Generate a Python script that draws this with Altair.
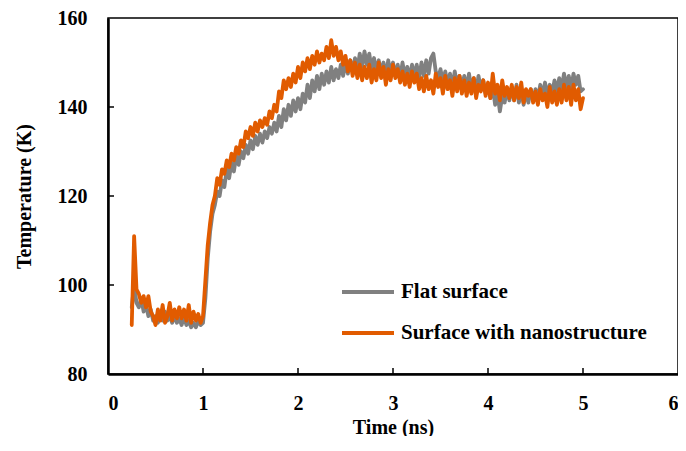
import altair as alt
import pandas as pd

# ---- data ----
time_ns = [
    0.250, 0.275, 0.300, 0.325, 0.350, 0.375, 0.400, 0.425, 0.450, 0.475,
    0.500, 0.525, 0.550, 0.575, 0.600, 0.625, 0.650, 0.675, 0.700, 0.725,
    0.750, 0.775, 0.800, 0.825, 0.850, 0.875, 0.900, 0.925, 0.950, 0.975,
    1.000, 1.025, 1.050, 1.075, 1.100, 1.125, 1.150, 1.175, 1.200, 1.225,
    1.250, 1.275, 1.300, 1.325, 1.350, 1.375, 1.400, 1.425, 1.450, 1.475,
    1.500, 1.525, 1.550, 1.575, 1.600, 1.625, 1.650, 1.675, 1.700, 1.725,
    1.750, 1.775, 1.800, 1.825, 1.850, 1.875, 1.900, 1.925, 1.950, 1.975,
    2.000, 2.025, 2.050, 2.075, 2.100, 2.125, 2.150, 2.175, 2.200, 2.225,
    2.250, 2.275, 2.300, 2.325, 2.350, 2.375, 2.400, 2.425, 2.450, 2.475,
    2.500, 2.525, 2.550, 2.575, 2.600, 2.625, 2.650, 2.675, 2.700, 2.725,
    2.750, 2.775, 2.800, 2.825, 2.850, 2.875, 2.900, 2.925, 2.950, 2.975,
    3.000, 3.025, 3.050, 3.075, 3.100, 3.125, 3.150, 3.175, 3.200, 3.225,
    3.250, 3.275, 3.300, 3.325, 3.350, 3.375, 3.400, 3.425, 3.450, 3.475,
    3.500, 3.525, 3.550, 3.575, 3.600, 3.625, 3.650, 3.675, 3.700, 3.725,
    3.750, 3.775, 3.800, 3.825, 3.850, 3.875, 3.900, 3.925, 3.950, 3.975,
    4.000, 4.025, 4.050, 4.075, 4.100, 4.125, 4.150, 4.175, 4.200, 4.225,
    4.250, 4.275, 4.300, 4.325, 4.350, 4.375, 4.400, 4.425, 4.450, 4.475,
    4.500, 4.525, 4.550, 4.575, 4.600, 4.625, 4.650, 4.675, 4.700, 4.725,
    4.750, 4.775, 4.800, 4.825, 4.850, 4.875, 4.900, 4.925, 4.950, 4.975,
    5.000,
]

flat_surface = [
    95, 100, 96, 95, 97, 94, 95.5, 93, 94.5, 92,
    93, 91.5, 93.5, 92, 94, 92, 93, 91.5, 93, 91.5,
    92.5, 91, 93, 91, 92, 90.5, 91.5, 90.5, 92, 91,
    91.5, 97, 106, 112, 116, 118, 121, 120, 123.5, 122,
    126, 124, 127.5, 125.5, 129, 127, 130, 128.5, 131.5, 129.5,
    132.5, 130.5, 133.5, 131.5, 134, 132, 134.5, 133, 135.5, 134,
    136.5, 134.5, 138, 135.5, 139.5, 137, 140.5, 138, 141.5, 139,
    142, 139.5, 143, 141, 145, 142, 146, 143.5, 147, 144,
    147.5, 145, 148, 145.5, 149, 146, 148.5, 146.5, 149.5, 147,
    150, 147.5, 150.5, 148, 151, 148.5, 152, 149, 152.5, 149.5,
    152, 148.5, 151, 148, 150.5, 147.5, 150, 147, 150.5, 147.5,
    150, 147, 149.5, 146.5, 150, 147, 149, 146.5, 149.5, 147,
    149.5, 146.5, 150, 147, 150.5, 147.5, 151, 152, 148, 146.5,
    148.5, 145.5, 148, 145, 147.5, 144.5, 148, 145, 147, 144.5,
    147, 144, 147.5, 144, 146.5, 143.5, 147, 144, 146, 143,
    145, 142, 144.5, 140.5, 143, 139, 142.5, 141, 144, 141.5,
    144.5, 141.5, 145, 141, 144, 140.5, 143.5, 141, 144, 141.5,
    144, 142, 145, 142.5, 145.5, 142.5, 145, 143, 146, 143.5,
    146.5, 144, 147.5, 144.5, 147, 144, 147.5, 145, 147, 143.5,
    144,
]

nanostructure = [
    91, 111, 99, 98, 96, 97.5, 95, 97.5, 94, 93,
    91, 94.5, 92, 95.5, 91.5, 93, 96, 92, 94.5, 92.5,
    95, 92.5, 94.5, 92, 95.5, 91.5, 94, 92, 93.5, 91.5,
    93, 101, 109, 114, 118, 120, 124, 122.5, 126, 125,
    128, 126.5, 129.5, 128, 131, 129.5, 132.5, 131, 134.5, 133,
    135.5, 133.5, 136.5, 134.5, 137, 135.5, 137.5, 136, 139, 137.5,
    140.5, 139, 143.5, 142, 146, 144, 146.5, 144.5, 147.5, 145.5,
    149, 146.5, 150, 148, 151, 148.5, 151.5, 149.5, 152.5, 150,
    152, 150.5, 153.5, 151, 155, 151.5, 153.5, 150.5, 152.5, 149.5,
    151.5, 148, 150.5, 147, 150, 146.5, 149.5, 146, 149, 146.5,
    149.5, 145.5, 148.5, 146, 150, 146.5, 149, 145, 148.5, 146,
    149.5, 146.5, 148.5, 145.5, 148, 145, 147.5, 144.5, 148, 145.5,
    147.5, 144, 146.5, 143.5, 147, 144, 146, 143, 147.5, 144.5,
    146.5, 143, 147, 144, 146, 142.5, 146.5, 143.5, 147, 143,
    146, 142.5, 145.5, 143, 146.5, 142, 145, 143.5, 146, 142.5,
    145.5, 142, 147.5, 143, 145, 141.5, 146, 142.5, 144.5, 142,
    145, 141.5, 144.5, 142, 145.5, 141, 144, 142.5, 144, 141,
    143.5, 140.5, 144, 141.5, 143, 140, 144.5, 141, 143.5, 140.5,
    144, 141, 145, 141.5, 144.5, 140.5, 145, 141.5, 144, 139.5,
    142,
]

series_names = ["Flat surface", "Surface with nanostructure"]
series_colors = ["#808080", "#E15B00"]
x_tick_values = [0, 1, 2, 3, 4, 5, 6]
y_tick_values = [80, 100, 120, 140, 160]

FONT = "Liberation Serif"

df = pd.DataFrame({
    "t": time_ns + time_ns,
    "T": flat_surface + nanostructure,
    "series": [series_names[0]] * len(time_ns) + [series_names[1]] * len(time_ns),
})

xs = alt.Scale(domain=[0, 6], nice=False)
ys = alt.Scale(domain=[80, 160], nice=False)

x_enc = alt.X("t:Q", scale=xs, axis=alt.Axis(values=x_tick_values, title="Time (ns)", format="d"))
y_enc = alt.Y("T:Q", scale=ys, axis=alt.Axis(values=y_tick_values, title="Temperature (K)", format="d"))
color_enc = alt.Color(
    "series:N",
    scale=alt.Scale(domain=series_names, range=series_colors),
    legend=alt.Legend(
        orient="none", legendX=232, legendY=246, title=None,
        symbolType="stroke", symbolSize=2704, symbolStrokeWidth=4,
        labelFont=FONT, labelFontSize=21, labelFontWeight="bold", labelColor="black",
        labelOffset=5, rowPadding=3, padding=0, labelLimit=500,
    ),
)

base = alt.Chart(df)


def line(name):
    return base.transform_filter(alt.datum.series == name).mark_line(
        strokeWidth=3.8, strokeJoin="round", strokeCap="round"
    ).encode(x=x_enc, y=y_enc, color=color_enc)


ytick_df = pd.DataFrame({"T": y_tick_values[1:-1]})
xtick_df = pd.DataFrame({"t": x_tick_values[1:-1]})

y_ticks = alt.Chart(ytick_df).mark_rule(color="black", strokeWidth=1.5).encode(
    y=y_enc, x=alt.value(0), x2=alt.value(6)
)
x_ticks = alt.Chart(xtick_df).mark_rule(color="black", strokeWidth=1.5).encode(
    x=x_enc, y=alt.value(356), y2=alt.value(350)
)

chart = alt.layer(line(series_names[0]), line(series_names[1]), y_ticks, x_ticks).properties(
    width=570, height=356,
    autosize=alt.AutoSizeParams(type="none"),
    padding={"left": 100, "top": 10, "right": 0, "bottom": 62},
).configure_axis(
    domainColor="black", domainWidth=2.5, ticks=False, grid=False,
    labelFont=FONT, labelFontSize=20, labelFontWeight="bold", labelColor="black",
    titleFont=FONT, titleFontSize=20, titleFontWeight="bold", titleColor="black",
).configure_axisY(
    labelPadding=21, titlePadding=23,
).configure_axisX(
    labelPadding=19, titlePadding=4,
).configure_view(
    stroke="black", strokeWidth=1.5,
)

chart.save("out.html", embed_options={"renderer": "svg", "actions": False})
